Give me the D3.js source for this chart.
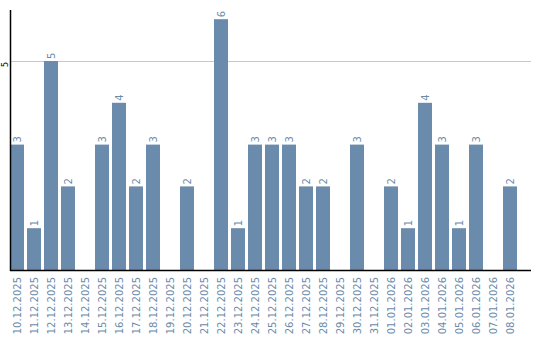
<!DOCTYPE html>
<html><head><meta charset="utf-8">
<script src="https://cdn.jsdelivr.net/npm/d3@7"></script>
<style>body{margin:0;background:#fff}svg{display:block}</style>
</head><body>
<svg id="c" width="540" height="340"></svg>
<script>
const dates = ["10.12.2025","11.12.2025","12.12.2025","13.12.2025","14.12.2025","15.12.2025","16.12.2025","17.12.2025","18.12.2025","19.12.2025","20.12.2025","21.12.2025","22.12.2025","23.12.2025","24.12.2025","25.12.2025","26.12.2025","27.12.2025","28.12.2025","29.12.2025","30.12.2025","31.12.2025","01.01.2026","02.01.2026","03.01.2026","04.01.2026","05.01.2026","06.01.2026","07.01.2026","08.01.2026"];
const counts = [3,1,5,2,0,3,4,2,3,0,2,0,6,1,3,3,3,2,2,0,3,0,2,1,4,3,1,3,0,2];
const yTicks = [5];

const svg = d3.select("#c");
const color = "#6a8bab";
const x = d3.scaleBand().domain(dates).range([10, 517]).paddingInner(3/17).paddingOuter(0);
const y = d3.scaleLinear().domain([0, 6.22]).range([270, 10]);

// gridline
svg.selectAll("line.grid").data(yTicks).join("line")
  .attr("x1", 10).attr("x2", 531)
  .attr("y1", d => y(d)+0.5).attr("y2", d => y(d)+0.5)
  .attr("stroke", "#c8c8c8").attr("stroke-width", 1);

// bars
svg.selectAll("rect.bar").data(dates.map((d,i)=>({d, v:counts[i]}))).join("rect")
  .attr("x", d => x(d.d)).attr("width", x.bandwidth())
  .attr("y", d => y(d.v)).attr("height", d => y(0) - y(d.v))
  .attr("fill", color);

// value labels
svg.selectAll("text.val").data(dates.map((d,i)=>({d, v:counts[i]})).filter(d=>d.v>0)).join("text")
  .attr("transform", d => `translate(${x(d.d)+x.bandwidth()/2},${y(d.v)-2}) rotate(-90)`)
  .attr("dy", "0.35em")
  .attr("text-anchor", "start")
  .attr("font-family", "DejaVu Sans, sans-serif")
  .attr("font-size", 10)
  .attr("fill", color)
  .text(d => d.v);

// x axis
const xAxis = d3.axisBottom(x).tickSize(0).tickPadding(0);
const gx = svg.append("g").attr("transform", "translate(0,270)").call(xAxis);
gx.select(".domain").remove();
gx.selectAll("text")
  .attr("transform", "translate(0,7) rotate(-90)")
  .attr("y", 0).attr("x", 0)
  .attr("dy", "0.35em")
  .attr("text-anchor", "end")
  .attr("font-family", "DejaVu Sans, sans-serif")
  .attr("font-size", 10)
  .attr("fill", color);
svg.append("line").attr("x1", 10).attr("x2", 531).attr("y1", 270.5).attr("y2", 270.5)
  .attr("stroke", "#000").attr("stroke-width", 1.5);

// y axis
const yAxis = d3.axisLeft(y).tickValues(yTicks).tickFormat(d3.format("d")).tickSize(0).tickPadding(0);
const gy = svg.append("g").attr("transform", "translate(10,0)").call(yAxis);
gy.select(".domain").remove();
gy.selectAll("text")
  .attr("transform", d => `translate(-5,3) rotate(-90)`)
  .attr("x", 0).attr("y", 0).attr("dy", "0.35em")
  .attr("text-anchor", "middle")
  .attr("font-family", "DejaVu Sans, sans-serif")
  .attr("font-size", 8)
  .attr("fill", "#000");
svg.append("line").attr("x1", 10.5).attr("x2", 10.5).attr("y1", 10).attr("y2", 271)
  .attr("stroke", "#000").attr("stroke-width", 1.5);
</script>
</body></html>
